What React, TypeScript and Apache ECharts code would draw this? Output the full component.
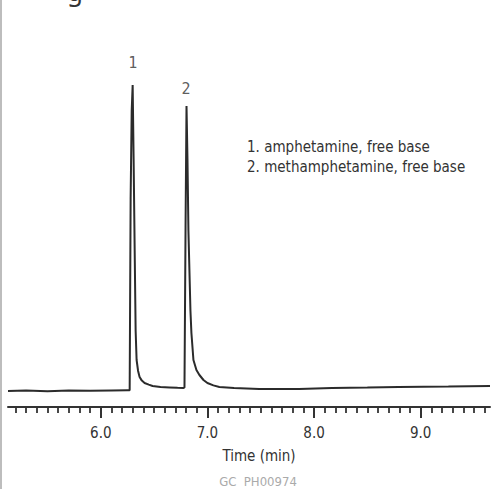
import React, { useEffect, useRef } from "react";
import * as echarts from "echarts";

// Chromatogram trace: [time (min), detector response (relative)]
const traceTime = [
  5.13, 5.3, 5.5, 5.7, 5.9, 6.1, 6.25, 6.271, 6.28, 6.29, 6.299, 6.308, 6.318, 6.327, 6.336,
  6.35, 6.364, 6.385, 6.411, 6.45, 6.486, 6.56, 6.645, 6.72, 6.776, 6.785, 6.795, 6.804,
  6.813, 6.822, 6.841, 6.85, 6.869, 6.897, 6.925, 6.963, 7.0, 7.056, 7.112, 7.25, 7.486,
  7.86, 8.168, 8.5, 8.794, 9.26, 9.65,
];
const traceValue = [
  4.0, 4.1, 3.95, 4.1, 4.05, 4.15, 4.2, 4.2, 52, 74, 80.5, 62, 39, 19, 11.75,
  9.0, 7.5, 6.6, 6.0, 5.6, 5.25, 5.0, 4.9, 4.8, 4.75, 4.9, 45, 75.25,
  62, 44, 24, 18.5, 11.75, 9.25, 8.0, 6.75, 6.0, 5.4, 5.0, 4.75, 4.5,
  4.5, 4.75, 4.85, 5.0, 5.1, 5.25,
];

const peakTimes = [6.3, 6.8];
const peakLabelLevels = [86, 79.5];
const peakNames = ["1", "2"];

const compoundList = ["1. amphetamine, free base", "2. methamphetamine, free base"];
const majorTicks = [6.0, 7.0, 8.0, 9.0];
const axisName = "Time (min)";
const footnote = "GC  PH00974";

const X_MIN = 5.13;
const X_MAX = 9.65;

export default function App() {
  const ref = useRef<HTMLDivElement>(null);
  useEffect(() => {
    if (!ref.current) return;
    const chart = echarts.init(ref.current, undefined, { renderer: "svg" });
    const minorTicks: number[] = [];
    for (let i = 52; i <= 96; i++) minorTicks.push(i / 10);
    const textFont = "'DejaVu Sans Condensed', 'Liberation Sans Narrow', 'Roboto Condensed', sans-serif";
    const grid = { left: 8, right: 4, top: 7, bottom: 82 };
    chart.setOption({
      animation: false,
      backgroundColor: "#ffffff",
      grid,
      xAxis: [
        {
          type: "value",
          min: X_MIN,
          max: X_MAX,
          position: "bottom",
          axisLine: { show: true, lineStyle: { color: "#333", width: 2 } },
          axisTick: {
            show: true,
            inside: false,
            length: 11,
            customValues: majorTicks,
            lineStyle: { color: "#333", width: 2 },
          },
          axisLabel: {
            show: true,
            customValues: majorTicks,
            formatter: (v: number) => v.toFixed(1),
            color: "#333",
            fontSize: 15,
            fontFamily: textFont,
            margin: 18,
          },
          splitLine: { show: false },
        },
        {
          type: "value",
          min: X_MIN,
          max: X_MAX,
          position: "bottom",
          axisLine: { show: false },
          axisTick: {
            show: true,
            length: 6,
            customValues: minorTicks,
            lineStyle: { color: "#333", width: 1.8 },
          },
          axisLabel: { show: false },
          splitLine: { show: false },
        },
      ],
      yAxis: {
        type: "value",
        min: 0,
        max: 100,
        show: false,
        splitLine: { show: false },
      },
      series: [
        {
          type: "line",
          data: traceTime.map((t, i) => [t, traceValue[i]]),
          showSymbol: false,
          symbol: "none",
          lineStyle: { color: "#2b2b2b", width: 2 },
          smooth: false,
        },
        {
          type: "scatter",
          symbolSize: 0,
          data: peakTimes.map((t, i) => ({ value: [t, peakLabelLevels[i]], name: peakNames[i] })),
          label: {
            show: true,
            position: "inside",
            formatter: (p: any) => p.name,
            color: "#333",
            fontSize: 15,
            fontFamily: "'DejaVu Sans Mono', 'Liberation Mono', monospace",
          },
        },
      ],
      graphic: [
        {
          type: "rect",
          left: 0,
          top: 0,
          shape: { x: 0, y: 0, width: 2, height: 489 },
          style: { fill: "#bdbdbd" },
        },
        {
          type: "text",
          x: 67,
          y: -22,
          style: { text: "g", fontSize: 26, fill: "#333", fontFamily: "'Noto Sans', sans-serif" },
        },
        {
          type: "text",
          x: 247,
          y: 147,
          style: {
            text: compoundList[0],
            fontSize: 15,
            fill: "#333",
            fontFamily: textFont,
            verticalAlign: "middle",
          },
        },
        {
          type: "text",
          x: 247,
          y: 167,
          style: {
            text: compoundList[1],
            fontSize: 15,
            fill: "#333",
            fontFamily: textFont,
            verticalAlign: "middle",
          },
        },
        {
          type: "text",
          x: 259,
          y: 456,
          style: {
            text: axisName,
            fontSize: 15,
            fill: "#333",
            fontFamily: textFont,
            align: "center",
            verticalAlign: "middle",
          },
        },
        {
          type: "text",
          x: 258,
          y: 481,
          style: {
            text: footnote,
            fontSize: 13,
            fill: "#aaaaaa",
            fontFamily: textFont,
            align: "center",
            verticalAlign: "middle",
          },
        },
      ],
    });
    return () => chart.dispose();
  }, []);
  return (
    <div
      ref={ref}
      style={{ position: "fixed", left: 0, top: 0, width: 494, height: 489, background: "#fff" }}
    />
  );
}
